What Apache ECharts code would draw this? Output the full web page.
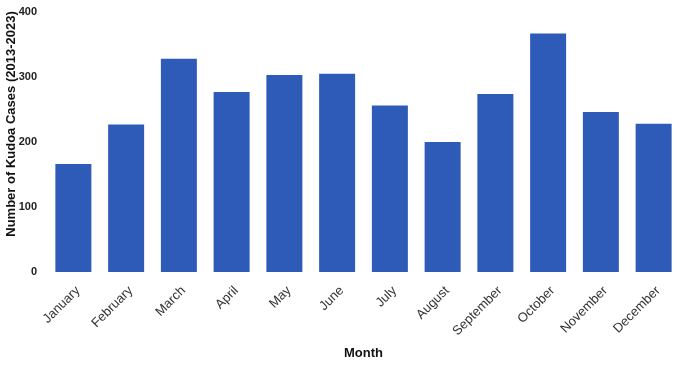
<!DOCTYPE html>
<html>
<head>
<meta charset="utf-8">
<script src="https://cdn.jsdelivr.net/npm/echarts@6/dist/echarts.min.js"></script>
<style>
  html, body { margin: 0; padding: 0; background: #fff; }
  #chart { width: 684px; height: 365px; }
</style>
</head>
<body>
<div id="chart"></div>
<script>
const months = ['January', 'February', 'March', 'April', 'May', 'June',
  'July', 'August', 'September', 'October', 'November', 'December'];
const cases = [166, 227, 328, 277, 303, 305, 256, 200, 274, 367, 246, 228];
const yTicks = [0, 100, 200, 300, 400];

const font = 'Liberation Sans, Arial, sans-serif';

const chart = echarts.init(document.getElementById('chart'));
chart.setOption({
  animation: false,
  grid: { left: 47, right: 4, top: 12, bottom: 93, outerBoundsMode: 'none', containLabel: false },
  // y title sits a bit above the axis middle, as in the source
  graphic: [{
    type: 'text',
    x: 11,
    y: 124,
    rotation: Math.PI / 2,
    style: {
      text: 'Number of Kudoa Cases (2013-2023)',
      font: 'bold 13px ' + font,
      fill: '#111',
      align: 'center',
      verticalAlign: 'middle'
    }
  }],
  xAxis: {
    type: 'category',
    data: months,
    name: 'Month',
    nameLocation: 'middle',
    nameGap: 75,
    nameTextStyle: { fontFamily: font, fontWeight: 'bold', fontSize: 13, color: '#111' },
    axisLine: { show: false },
    axisTick: { show: false },
    axisLabel: {
      rotate: 45,
      interval: 0,
      margin: 12,
      verticalAlign: 'top',
      fontFamily: font,
      fontSize: 13,
      color: '#333'
    }
  },
  yAxis: {
    type: 'value',
    min: yTicks[0],
    max: yTicks[yTicks.length - 1],
    interval: 100,
    axisLine: { show: false },
    axisTick: { show: false },
    splitLine: { show: false },
    axisLabel: {
      margin: 10,
      fontFamily: font,
      fontWeight: 'bold',
      fontSize: 11,
      color: '#222'
    }
  },
  series: [{
    type: 'bar',
    data: cases,
    barWidth: 36,
    itemStyle: { color: '#2E5BB7' }
  }]
});
</script>
</body>
</html>
